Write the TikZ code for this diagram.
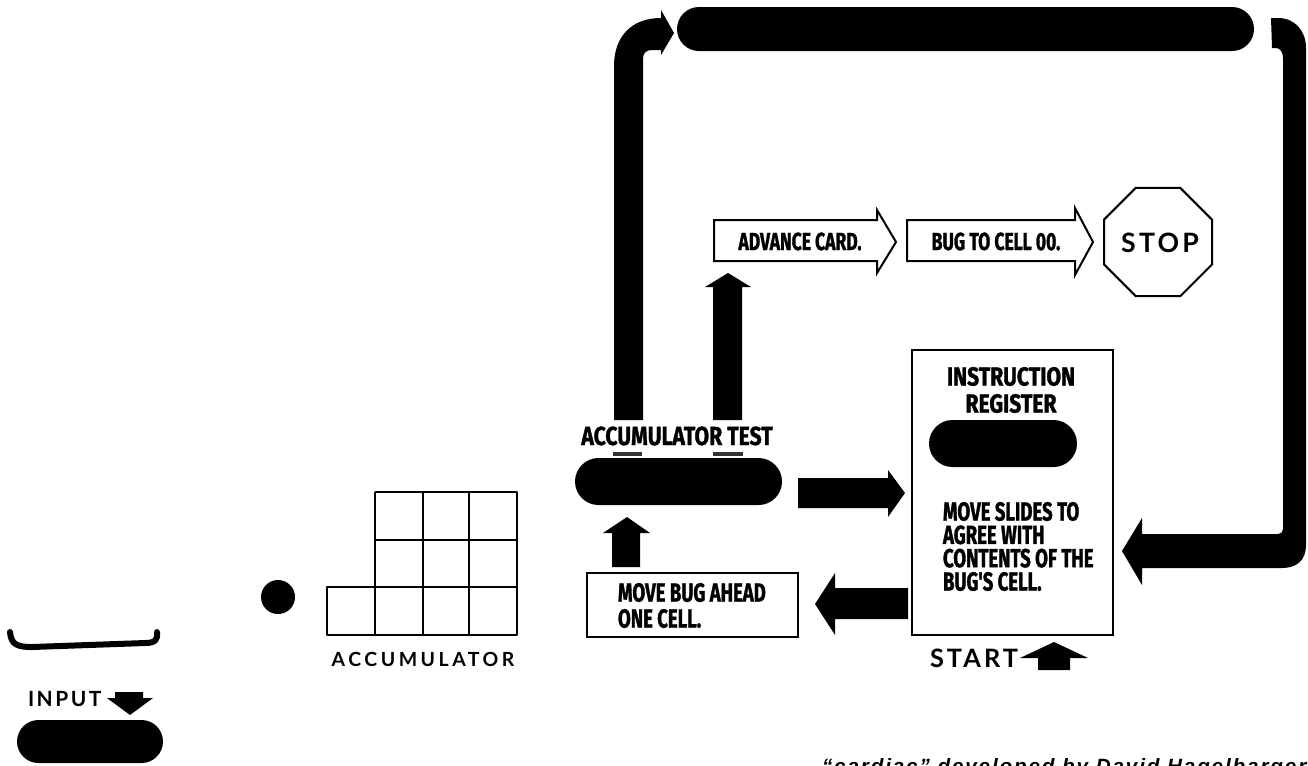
\documentclass[tikz,border=0pt]{standalone}
\usepackage{fontspec}
\usetikzlibrary{shapes.geometric,shapes.misc}
\newfontfamily\condA[FakeStretch=0.71, BoldFeatures={FakeBold=1.2}]{Fira Sans}
\newfontfamily\condB[FakeStretch=0.81, BoldFeatures={FakeBold=1.2}]{Fira Sans}
\newfontfamily\spcA[LetterSpace=18]{Lato}
\newfontfamily\spcB[LetterSpace=12]{Lato}
\newfontfamily\captfont[LetterSpace=9]{Liberation Sans}
\newcommand\cfA{\condA\bfseries\fontsize{19.6pt}{19.5pt}\selectfont}
\newcommand\cfD{\condA\bfseries\fontsize{19.6pt}{17.5pt}\selectfont}
\newcommand\cfC{\condA\bfseries\fontsize{18.5pt}{22pt}\selectfont}
\newcommand\cfB{\condB\bfseries\fontsize{19.6pt}{20.25pt}\selectfont}
\tikzset{
  pill/.style={rounded rectangle, fill=black, draw=none, inner sep=0pt},
  boxed/.style={draw=black, line width=1.5pt, fill=white, inner sep=0pt},
  blk/.style={fill=black, draw=none},
  gridl/.style={draw=black, line width=1.5pt, line join=round},
  lbl/.style={inner sep=0pt, outer sep=0pt},
  tickmark/.style={line width=2.4pt, draw=black!80}
}
\begin{document}
\begin{tikzpicture}[x=0.75pt,y=-0.75pt]
\clip (0,0) rectangle (1308,765);
\fill[white] (0,0) rectangle (1308,765);

% ---- input
\draw[line width=4.5pt, line cap=round] (10,632) .. controls (11,645) and (18,647) .. (32,647) -- (145,643) .. controls (155,643) and (158,640) .. (157,632);
\node[lbl, anchor=base west, font=\spcB\bfseries\fontsize{15.7pt}{18pt}\selectfont] (input) at (28,706) {INPUT};
\fill[blk] (115,692) -- (143,692) -- (143,698) -- (153,698) -- (130,715) -- (107,698) -- (115,698) -- cycle;
\node[pill, minimum width=109.5pt, minimum height=32.25pt] (inpill) at (90,741.5) {};

% ---- accumulator
\node[circle, fill=black, minimum size=25.5pt, inner sep=0pt] (bug) at (278,597) {};
\draw[gridl] (375,492) -- (517,492) -- (517,635) -- (327,635) -- (327,587) -- (517,587)
  (375,540) -- (517,540) (375,492) -- (375,635) (423,492) -- (423,635) (469,492) -- (469,635);
\node[lbl, anchor=base, font=\spcA\bfseries\fontsize{14.6pt}{17pt}\selectfont] (acc) at (423,666) {ACCUMULATOR};

% ---- accumulator test
\node[lbl, anchor=base, font=\cfB] (acclbl) at (677,445) {ACCUMULATOR TEST};
\node[pill, minimum width=155.25pt, minimum height=35.25pt] (acctest) at (678.5,481.5) {};
\draw[tickmark] (613,454) -- (642,454);
\draw[tickmark] (713,454) -- (743,454);

% ---- move bug ahead
\node[boxed, minimum width=158.25pt, minimum height=48pt] (movebug) at (692.5,605) {};
\node[lbl, anchor=north west, align=left, font=\cfA] (mb) at (618,583) {MOVE BUG AHEAD\\ONE CELL.};
\fill[blk] (612,567) -- (612,533) -- (603,533) -- (627,517) -- (650,533) -- (640,533) -- (640,567) -- cycle;

% ---- instruction register
\node[boxed, minimum width=150.75pt, minimum height=213.75pt] (ir) at (1012.5,492.5) {};
\node[lbl, anchor=north, align=center, font=\cfB] (irlbl) at (1011,367) {INSTRUCTION\\REGISTER};
\node[pill, minimum width=111pt, minimum height=35.25pt] (irpill) at (1003,443.5) {};
\node[lbl, anchor=north west, align=left, font=\cfD] (irtxt) at (943,502) {MOVE SLIDES TO\\AGREE WITH\\CONTENTS OF THE\\BUG'S CELL.};
\node[lbl, anchor=base west, font=\spcB\bfseries\fontsize{19pt}{22pt}\selectfont] (start) at (930,667) {START};
\fill[blk] (1038,670) -- (1038,658) -- (1020,658) -- (1054,642) -- (1088,658) -- (1070,658) -- (1070,670) -- cycle;

% ---- black connectors
\fill[blk] (798,478) -- (888,478) -- (888,470) -- (905,493) -- (888,517) -- (888,508) -- (798,508) -- cycle;
\fill[blk] (908,588) -- (835,588) -- (835,573) -- (815,604) -- (835,635) -- (835,619) -- (908,619) -- cycle;
\fill[blk] (713,420) -- (713,287) -- (705,287) -- (728,273) -- (751,287) -- (742,287) -- (742,420) -- cycle;

% ---- loop
\node[pill, minimum width=432.75pt, minimum height=33pt] (bus) at (965.5,29) {};
\fill[blk] (614,420) -- (614,66) .. controls (614,36) and (632,18) .. (661,18) -- (661,10) -- (674,33) -- (661,55) -- (661,50) -- (652,50) .. controls (646,50) and (643,53) .. (643,59) -- (643,420) -- cycle;
\fill[blk] (1271,18) -- (1278,18) .. controls (1295,18) and (1306,31) .. (1306,48) -- (1306,545) .. controls (1306,560) and (1297,568) .. (1282,568) -- (1142,568) -- (1142,585) -- (1122,551) -- (1142,518) -- (1142,534) -- (1278,534) .. controls (1281,534) and (1283,532) .. (1283,529) -- (1283,58) .. controls (1283,52) and (1280,48) .. (1276,48) -- (1272,48) -- cycle;

% ---- advance card / bug to cell / stop
\draw[boxed] (714,220) -- (877,220) -- (877,210) -- (896,242) -- (877,273) -- (877,261) -- (714,261) -- cycle;
\node[lbl, anchor=base, font=\cfC] (adv) at (800,250) {ADVANCE CARD.};
\draw[boxed] (907,220) -- (1075,220) -- (1075,208) -- (1093,242) -- (1075,275) -- (1075,261) -- (907,261) -- cycle;
\node[lbl, anchor=base, font=\cfC] (b00) at (996,250) {BUG TO CELL 00.};
\node[regular polygon, regular polygon sides=8, draw=black, line width=1.5pt, minimum size=87.7pt, inner sep=0pt] (stop) at (1158,242) {};
\node[lbl, anchor=base, font=\spcB\bfseries\fontsize{20pt}{22pt}\selectfont] (stoplbl) at (1160,252) {STOP};

% ---- caption
\node[lbl, anchor=base west, font=\captfont\bfseries\itshape\fontsize{15.5pt}{17pt}\selectfont] (caption) at (822,773) {“cardiac” developed by David Hagelbarger};
\end{tikzpicture}
\end{document}
